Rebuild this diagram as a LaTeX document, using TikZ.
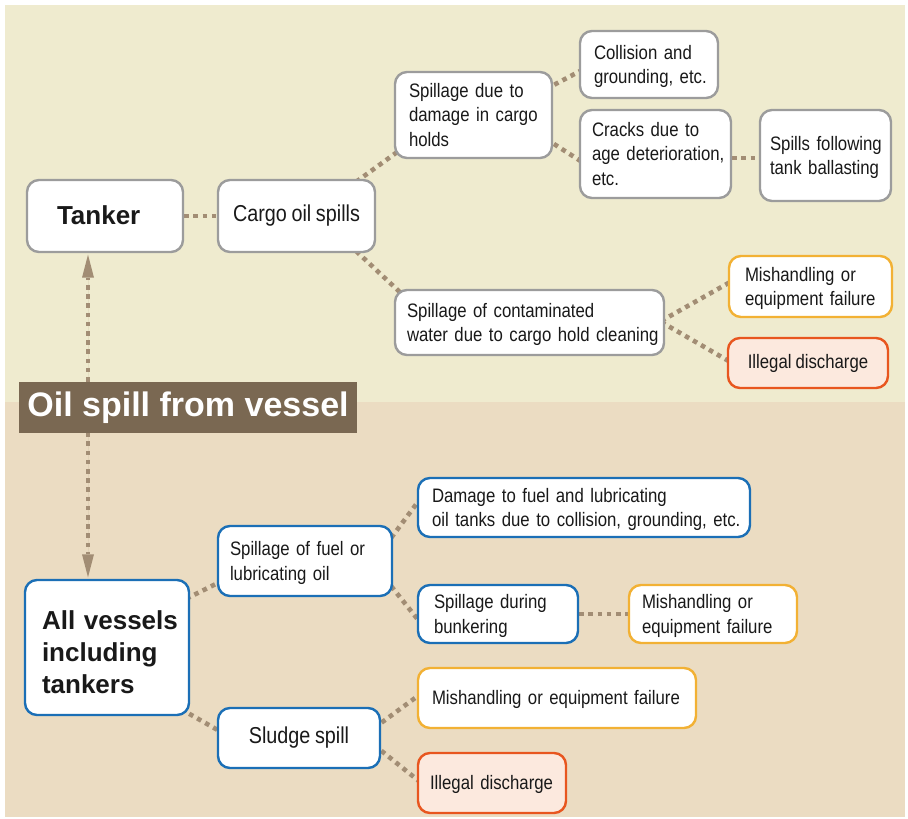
\documentclass[tikz,border=0pt]{standalone}
\usepackage{fontspec}
\setmainfont{Liberation Sans}
\newfontfamily\cond[FakeStretch=0.86,WordSpace=0.85]{Liberation Sans}
\usetikzlibrary{arrows.meta,calc}
\pgfdeclarelayer{background}
\pgfsetlayers{background,main}
\definecolor{topbg}{HTML}{EFEBCF}
\definecolor{botbg}{HTML}{EBDCC2}
\definecolor{conn}{HTML}{A28D74}
\definecolor{grayb}{HTML}{9C9C9C}
\definecolor{blueb}{HTML}{1B6FB6}
\definecolor{orangeb}{HTML}{F2B134}
\definecolor{redb}{HTML}{E8561F}
\definecolor{redfill}{HTML}{FCE9DE}
\definecolor{titlefill}{HTML}{7A6852}
\newcommand{\tl}[1]{\raisebox{-2pt}[\height][\depth]{\begin{tabular}{@{}l@{}}#1\end{tabular}}}
\newcommand{\tllow}[1]{\raisebox{-8pt}[\height][\depth]{\begin{tabular}{@{}l@{}}#1\end{tabular}}}
\tikzset{
  box/.style={draw, line width=2.4pt, rounded corners=12pt, fill=white, inner xsep=0pt, inner ysep=0pt,
    font=\cond\fontsize{19.5}{24.5}\selectfont, text=black!90},
  gbox/.style={box, draw=grayb},
  bbox/.style={box, draw=blueb},
  obox/.style={box, draw=orangeb},
  rbox/.style={box, draw=redb, fill=redfill},
  dotline/.style={draw=conn, line width=4.6pt, dash pattern=on 4.6pt off 4.6pt},
  bigbold/.style={font=\bfseries\fontsize{26}{32}\selectfont},
  largetext/.style={font=\cond\fontsize{23}{28}\selectfont}
}
\begin{document}
\begin{tikzpicture}[x=1pt,y=-1pt]
\useasboundingbox (0,0) rectangle (908,819);
% nodes
\node[gbox, bigbold, minimum width=156pt, minimum height=72pt, text width=96pt, align=left] (tanker) at (105,216) {\tl{Tanker}};
\node[gbox, largetext, minimum width=157pt, minimum height=72pt, align=center] (cargo) at (296.5,216) {Cargo oil spills};
\node[gbox, minimum width=157pt, minimum height=86pt, text width=129pt, align=left] (dmg) at (473.5,115) {\tl{Spillage due to\\damage in cargo\\holds}};
\node[gbox, minimum width=138pt, minimum height=67pt, text width=110pt, align=left] (coll) at (649,64.5) {\tl{Collision and\\grounding, etc.}};
\node[gbox, minimum width=151pt, minimum height=88pt, text width=127pt, align=left] (cracks) at (655.5,154) {\tl{Cracks due to\\age deterioration,\\etc.}};
\node[gbox, minimum width=131pt, minimum height=91pt, text width=111pt, align=left] (ballast) at (825.5,155.5) {\tl{Spills following\\tank ballasting}};
\node[gbox, minimum width=269pt, minimum height=65pt, text width=245pt, align=left] (contam) at (529.5,322.5) {\tl{Spillage of contaminated\\water due to cargo hold cleaning}};
\node[obox, minimum width=163pt, minimum height=61pt, text width=131pt, align=left] (mis1) at (810.5,286.5) {\tl{Mishandling or\\equipment failure}};
\node[rbox, minimum width=160pt, minimum height=50pt, align=center] (ill1) at (808,363) {Illegal discharge};
\node[fill=titlefill, text=white, font=\bfseries\fontsize{34}{36}\selectfont, minimum width=338pt, minimum height=51pt, inner sep=0pt] (title) at (188,407.5) {Oil spill from vessel};
\node[bbox, bigbold, minimum width=164pt, minimum height=135pt, text width=130pt, align=left] (all) at (107,647.5) {\tllow{All vessels\\including\\tankers}};
\node[bbox, minimum width=174pt, minimum height=70pt, text width=150pt, align=left] (fuel) at (305,561) {\tl{Spillage of fuel or\\lubricating oil}};
\node[bbox, minimum width=332pt, minimum height=59pt, text width=304pt, align=left] (dmgfuel) at (584,507.5) {\tl{Damage to fuel and lubricating\\oil tanks due to collision, grounding, etc.}};
\node[bbox, minimum width=160pt, minimum height=58pt, text width=128pt, align=left] (bunk) at (498,614) {\tl{Spillage during\\bunkering}};
\node[obox, minimum width=168pt, minimum height=58pt, text width=142pt, align=left] (mis2) at (713,614) {\tl{Mishandling or\\equipment failure}};
\node[bbox, largetext, minimum width=162pt, minimum height=60pt, align=center] (sludge) at (299,738) {Sludge spill};
\node[obox, minimum width=278pt, minimum height=60pt, text width=250pt, align=left] (mis3) at (557,698) {\tl{Mishandling or equipment failure}};
\node[rbox, minimum width=148pt, minimum height=60pt, text width=124pt, align=left] (ill2) at (492,783) {\tl{Illegal discharge}};
\begin{pgfonlayer}{background}
\fill[topbg] (5,5) rectangle (905,402);
\fill[botbg] (5,402) rectangle (905,817);
% connectors
\draw[dotline] (tanker.east) -- (cargo.west);
\draw[dotline] ([xshift=-20pt,yshift=-3pt]cargo.north east) -- ([xshift=10pt,yshift=12pt]dmg.south west);
\draw[dotline] ([xshift=-7pt,yshift=26pt]dmg.east) -- ([xshift=7pt,yshift=-3.5pt]coll.west);
\draw[dotline] ([xshift=-7pt,yshift=-24pt]dmg.east) -- ([xshift=8pt,yshift=-11pt]cracks.west);
\draw[dotline] ([yshift=-4pt]cracks.east) -- ([yshift=-2.5pt]ballast.west);
\draw[dotline] ([xshift=-20pt,yshift=2pt]cargo.south east) -- ([xshift=10pt,yshift=-7pt]contam.north west);
\draw[dotline] ([xshift=-4pt,yshift=1.5pt]contam.east) -- ([xshift=6pt,yshift=6.5pt]mis1.west);
\draw[dotline] ([xshift=-4pt,yshift=0.5pt]contam.east) -- ([xshift=7pt,yshift=-1pt]ill1.west);
\draw[dotline, dash phase=2pt, {Triangle[length=23pt,width=12pt,line width=0pt]}-{Triangle[length=23pt,width=12pt,line width=0pt]}, fill=conn]
  ([xshift=-17pt,yshift=-1.5pt]tanker.south) -- ([xshift=-19pt,yshift=1.5pt]all.north);
\draw[dotline] ([xshift=-4pt,yshift=-20pt]all.north east) -- ([xshift=7pt,yshift=-19pt]fuel.west);
\draw[dotline] ([xshift=-2pt,yshift=-13pt]fuel.north east) -- ([xshift=7pt,yshift=13.5pt]dmgfuel.west);
\draw[dotline] ([xshift=-2pt,yshift=11pt]fuel.south east) -- ([xshift=7pt,yshift=-13pt]bunk.west);
\draw[dotline] (bunk.east) -- (mis2.west);
\draw[dotline] ([xshift=-9pt,yshift=7pt]all.south east) -- ([xshift=7pt,yshift=4.5pt]sludge.west);
\draw[dotline] ([xshift=-7pt,yshift=10pt]sludge.east) -- ([xshift=7pt,yshift=6.4pt]mis3.west);
\draw[dotline] ([xshift=-7pt,yshift=-7pt]sludge.east) -- ([xshift=7pt,yshift=-2pt]ill2.west);
\end{pgfonlayer}
\end{tikzpicture}
\end{document}
